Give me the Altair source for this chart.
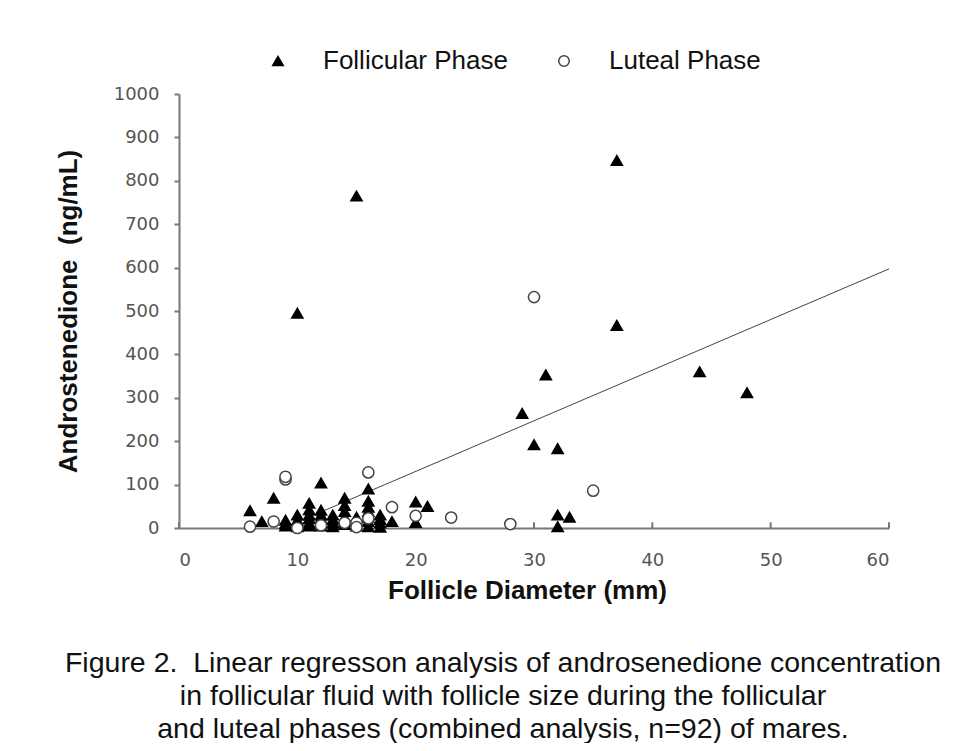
import altair as alt
import pandas as pd

# Follicular phase (filled triangles)
fol_x = [6, 7, 8, 9, 9, 9, 10, 10, 10, 10, 10, 11, 11, 11, 11, 11, 11,
         12, 12, 12, 12, 12, 12, 13, 13, 13, 13,
         14, 14, 14, 14, 14, 14, 15, 15, 15, 15, 16, 16, 16, 16, 16, 16, 16,
         17, 17, 17, 17, 18,
         20, 20, 21, 29, 30, 31, 32, 32, 32, 33, 37, 37, 44, 48]
fol_y = [40, 15, 69, 18, 10, 5, 18, 495, 30, 8, 3, 57, 42, 30, 22, 12, 5,
         104, 41, 30, 22, 12, 5, 20, 30, 12, 3,
         69, 52, 38, 25, 15, 8, 765, 25, 18, 5, 90, 62, 48, 38, 25, 15, 3,
         30, 20, 12, 2, 15,
         60, 13, 50, 264, 192, 353, 183, 30, 3, 25, 847, 467, 360, 312]

# Luteal phase (open circles)
lut_x = [6, 8, 9, 9, 10, 12, 14, 15, 15, 16, 16, 18, 20, 23, 28, 30, 35]
lut_y = [3, 15, 112, 118, 0, 6, 12, 12, 2, 128, 22, 48, 28, 24, 9, 532, 86]

# Regression line end points
reg_x = [9, 60]
reg_y = [2, 597]

x_ticks = [0, 10, 20, 30, 40, 50, 60]
y_ticks = [0, 100, 200, 300, 400, 500, 600, 700, 800, 900, 1000]

phases = ["Follicular Phase", "Luteal Phase"]
caption = [
    "Figure 2.\u00a0 Linear regresson analysis of androsenedione concentration",
    "in follicular fluid with follicle size during the follicular",
    "and luteal phases (combined analysis, n=92) of mares.",
]

points = pd.DataFrame({
    "diameter": fol_x + lut_x,
    "andro": fol_y + lut_y,
    "phase": [phases[0]] * len(fol_x) + [phases[1]] * len(lut_x),
})
reg = pd.DataFrame({"diameter": reg_x, "andro": reg_y})
ticks = pd.DataFrame({"t": x_ticks})

x_scale = alt.Scale(domain=[0, 60], nice=False)
y_scale = alt.Scale(domain=[0, 1000], nice=False)

x_axis = alt.Axis(values=x_ticks, ticks=False, labelPadding=23, format="d",
                  title="Follicle Diameter (mm)", titleX=348, titleY=62,
                  titleBaseline="middle")
y_axis = alt.Axis(values=y_ticks, tickSize=5, labelPadding=15, format="d",
                  title="Androstenedione\u00a0 (ng/mL)", titleX=-111, titleY=217,
                  titleBaseline="middle", titleAlign="center")

legend = alt.Legend(orient="none", legendX=86, legendY=-46, direction="horizontal",
                    title=None, labelFont="Liberation Sans", labelFontSize=26,
                    labelColor="#111", labelLimit=0, symbolSize=110, labelOffset=32,
                    columnPadding=43, symbolStrokeWidth=1.5)

line = alt.Chart(reg).mark_line(color="#444", strokeWidth=1).encode(
    x=alt.X("diameter:Q", scale=x_scale, axis=x_axis),
    y=alt.Y("andro:Q", scale=y_scale, axis=y_axis),
)

tick_marks = alt.Chart(ticks).mark_rule(color="#777", strokeWidth=2).encode(
    x=alt.X("t:Q", scale=x_scale),
    y=alt.datum(0),
    y2=alt.datum(13),
)

pts = alt.Chart(points).mark_point(strokeWidth=1.5, opacity=1, size=125).encode(
    x=alt.X("diameter:Q", scale=x_scale),
    y=alt.Y("andro:Q", scale=y_scale),
    shape=alt.Shape("phase:N", scale=alt.Scale(domain=phases, range=["triangle-up", "circle"]), legend=legend),
    fill=alt.Fill("phase:N", scale=alt.Scale(domain=phases, range=["#000000", "#ffffff"]), legend=legend),
    stroke=alt.Stroke("phase:N", scale=alt.Scale(domain=phases, range=["#000000", "#444444"]), legend=legend),
)

chart = alt.layer(line, tick_marks, pts).properties(
    width=710,
    height=434,
    autosize=alt.AutoSizeParams(type="none"),
    padding={"left": 171, "top": 86, "right": 67, "bottom": 215},
    background="white",
    title=alt.TitleParams(text=caption, orient="bottom", anchor="middle",
                          font="Liberation Sans", fontSize=28.5, fontWeight="normal",
                          lineHeight=33, dx=-31, offset=46, color="#111"),
).configure_view(stroke="transparent").configure_axis(
    grid=False, domainColor="#777", domainWidth=2, tickColor="#777", tickWidth=2,
    labelFont="DejaVu Sans", labelFontSize=18, labelColor="#555",
    titleFont="Liberation Sans", titleFontSize=26, titleFontWeight="bold", titleColor="#111",
)

chart.save("out.html", embed_options={"renderer": "svg", "actions": False})
